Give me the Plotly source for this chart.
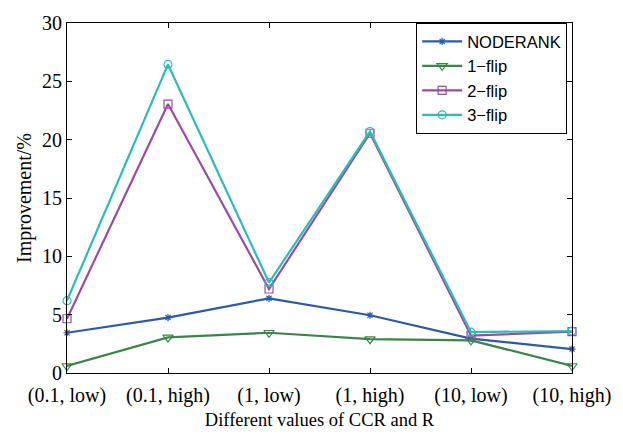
import plotly.graph_objects as go

# Parameter combinations (CCR, R)
categories = ["(0.1, low)", "(0.1, high)", "(1, low)", "(1, high)", "(10, low)", "(10, high)"]

# Improvement (%) per method
noderank = [3.45, 4.75, 6.4, 4.95, 2.95, 2.05]
flip1 = [0.6, 3.05, 3.45, 2.9, 2.8, 0.6]
flip2 = [4.65, 23.05, 7.2, 20.55, 3.2, 3.55]
flip3 = [6.2, 26.45, 7.75, 20.7, 3.5, 3.6]

series = [
    ("NODERANK", noderank, "#2c5aa8", "asterisk-open", 6),
    ("1\u2212flip", flip1, "#3a8547", "triangle-down-open", 9),
    ("2\u2212flip", flip2, "#9a4ca2", "square-open", 8),
    ("3\u2212flip", flip3, "#2bbdb6", "circle-open", 8),
]

x_idx = list(range(len(categories)))

fig = go.Figure()
for name, vals, color, symbol, size in series:
    fig.add_trace(go.Scatter(
        x=x_idx, y=vals, name=name, mode="lines+markers",
        line=dict(color=color, width=2.2),
        marker=dict(symbol=symbol, size=size, color=color,
                    line=dict(color=color, width=1.2)),
        cliponaxis=False,
    ))

axis_common = dict(
    showline=True, linecolor="black", linewidth=1.2, mirror="ticks",
    ticks="inside", ticklen=5, tickcolor="black", tickwidth=1,
    showgrid=False, zeroline=False,
    tickfont=dict(family="Liberation Serif", size=20, color="black"),
)

fig.update_xaxes(
    **axis_common,
    range=[0, len(categories) - 1],
    tickmode="array", tickvals=x_idx, ticktext=categories,
    ticklabelstandoff=4,
    title=dict(text="Different values of CCR and R", standoff=6,
               font=dict(family="Liberation Serif", size=18.5, color="black")),
)
fig.update_yaxes(
    **axis_common,
    range=[0, 30], tickmode="array", tickvals=[0, 5, 10, 15, 20, 25, 30],
    title=dict(text="Improvement/%", standoff=4,
               font=dict(family="Liberation Serif", size=20, color="black")),
)

fig.update_layout(
    width=623, height=438,
    margin=dict(l=67, r=44, t=14, b=64),
    plot_bgcolor="white", paper_bgcolor="white",
    showlegend=True,
    legend=dict(
        x=0.99, xanchor="right", y=1.0, yanchor="top",
        bgcolor="white", bordercolor="black", borderwidth=1.2,
        font=dict(family="Liberation Sans", size=16.5, color="black"),
        tracegroupgap=0, itemwidth=40,
    ),
)

fig.write_html("out.html")
